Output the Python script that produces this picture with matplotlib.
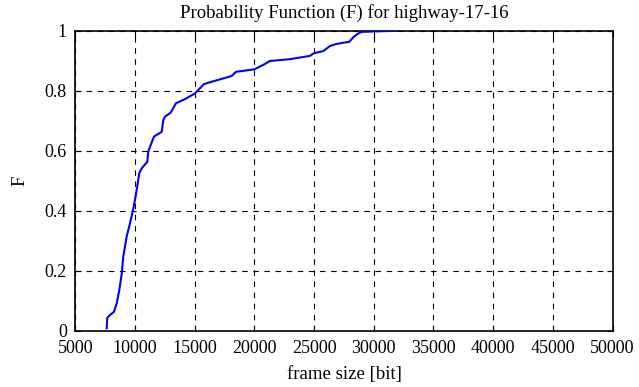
import numpy as np
import matplotlib
matplotlib.use("Agg")
import matplotlib.pyplot as plt

# CDF of frame sizes
frame_size = [7630, 7680, 7900, 8240, 8470, 8690, 8890, 9020, 9300, 9580,
              9810, 10000, 10140, 10360, 10560, 11030, 11110, 11260, 11590, 12240,
              12370, 12510, 12990, 13430, 14190, 15030, 15440, 15780, 16700, 18100,
              18460, 19990, 20740, 21300, 22980, 24650, 24990, 25770, 26330, 26890,
              27950, 28280, 28700, 28990, 31920]
prob_f = [0.008, 0.043, 0.052, 0.063, 0.091, 0.136, 0.19, 0.247, 0.313, 0.358,
          0.397, 0.436, 0.469, 0.525, 0.541, 0.563, 0.597, 0.613, 0.647, 0.663,
          0.702, 0.713, 0.727, 0.758, 0.772, 0.791, 0.808, 0.822, 0.833, 0.849,
          0.863, 0.871, 0.886, 0.899, 0.905, 0.916, 0.925, 0.932, 0.949, 0.956,
          0.963, 0.978, 0.991, 0.996, 1.0]

x_ticks = list(range(5000, 50001, 5000))
y_ticks = [0, 0.2, 0.4, 0.6, 0.8, 1]

plt.rcParams["font.family"] = ["Liberation Serif", "DejaVu Serif"]

fig = plt.figure(figsize=(6.39, 3.87), dpi=100)
ax = fig.add_axes([0.1178, 0.1455, 0.9587 - 0.1178, 0.9207 - 0.1455])

ax.plot(frame_size, prob_f, color="#0000ff", lw=1.5, zorder=3)

ax.set_xlim(5000, 50000)
ax.set_ylim(0, 1)
ax.set_xticks(x_ticks)
ax.set_xticklabels([str(t) for t in x_ticks])
ax.set_yticks(y_ticks)
ax.set_yticklabels(["0", "0.2", "0.4", "0.6", "0.8", "1"])

ax.grid(True, color="black", linestyle=(0, (5, 5)), lw=0.8)
ax.tick_params(direction="in", length=4, width=0.8, top=True, right=True,
               labelsize=13)
ax.tick_params(axis="x", pad=7)
ax.tick_params(axis="y", pad=6)
for s in ax.spines.values():
    s.set_linewidth(1.2)

ax.set_title("Probability Function (F) for highway-17-16", fontsize=13.5, pad=9)
ax.set_xlabel("frame size [bit]", fontsize=13.5, labelpad=6)
ax.set_ylabel("F", fontsize=13.5, labelpad=12)

fig.savefig("out.png", dpi=100)
